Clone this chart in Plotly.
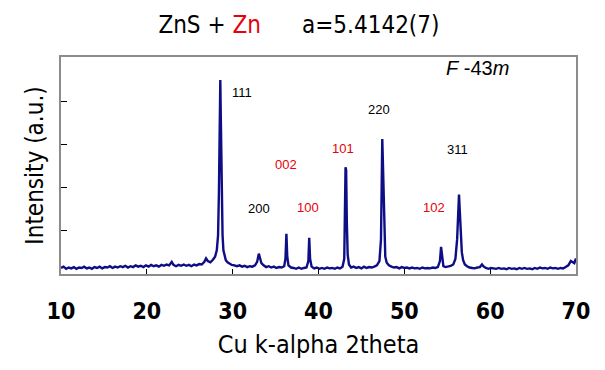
import plotly.graph_objects as go

# Diffraction pattern: (2theta, intensity in a.u.)
two_theta = [
    10.0, 10.3, 10.6, 10.9, 11.2, 11.5, 11.8, 12.1, 12.4, 12.7, 13.0, 13.3, 13.6, 13.9,
    14.2, 14.5, 14.8, 15.1, 15.4, 15.7, 16.0, 16.3, 16.6, 16.9, 17.2, 17.5, 17.8, 18.1,
    18.4, 18.7, 19.0, 19.3, 19.6, 19.9, 20.2, 20.5, 20.8, 21.1, 21.4, 21.7, 22.0, 22.3,
    22.6, 22.9, 23.1, 23.4, 23.7, 24.0, 24.3, 24.6, 24.9, 25.2, 25.5, 25.8, 26.1, 26.4,
    26.7, 26.9, 27.1, 27.4, 27.7, 27.95, 28.15, 28.3, 28.4, 28.48, 28.56, 28.62, 28.68,
    28.75, 28.82, 28.92, 29.05, 29.2, 29.4, 29.6, 29.9, 30.2, 30.5, 30.8, 31.1, 31.4,
    31.7, 32.0, 32.3, 32.6, 32.85, 33.05, 33.2, 33.35, 33.6, 33.9, 34.2, 34.5, 34.8,
    35.1, 35.4, 35.7, 36.0, 36.15, 36.26, 36.36, 36.5, 36.8, 37.1, 37.4, 37.7, 38.0,
    38.3, 38.6, 38.82, 38.92, 39.02, 39.2, 39.5, 39.8, 40.1, 40.4, 40.7, 41.0, 41.3,
    41.6, 41.9, 42.2, 42.5, 42.8, 43.0, 43.08, 43.15, 43.22, 43.3, 43.4, 43.55, 43.8,
    44.1, 44.4, 44.7, 45.0, 45.3, 45.6, 45.9, 46.2, 46.5, 46.8, 47.1, 47.28, 47.36,
    47.43, 47.5, 47.56, 47.65, 47.78, 47.95, 48.2, 48.5, 48.8, 49.1, 49.4, 49.7, 50.0,
    50.3, 50.6, 50.9, 51.2, 51.5, 51.8, 52.1, 52.4, 52.7, 53.0, 53.3, 53.6, 53.9,
    54.15, 54.28, 54.4, 54.55, 54.8, 55.1, 55.4, 55.7, 55.95, 56.15, 56.3, 56.37,
    56.45, 56.55, 56.7, 56.85, 57.05, 57.3, 57.6, 57.9, 58.2, 58.5, 58.8, 59.05,
    59.25, 59.5, 59.8, 60.1, 60.4, 60.7, 61.0, 61.3, 61.6, 61.9, 62.2, 62.5, 62.8,
    63.1, 63.4, 63.7, 64.0, 64.3, 64.6, 64.9, 65.2, 65.5, 65.8, 66.1, 66.4, 66.7,
    67.0, 67.3, 67.6, 67.9, 68.2, 68.5, 68.8, 69.1, 69.4, 69.6, 69.8, 70.0,
]
intensity = [
    0.14, 0.17, 0.12, 0.15, 0.13, 0.16, 0.12, 0.15, 0.14, 0.17, 0.13, 0.15, 0.12, 0.16,
    0.14, 0.17, 0.13, 0.16, 0.15, 0.18, 0.14, 0.17, 0.15, 0.18, 0.16, 0.19, 0.15, 0.18,
    0.16, 0.20, 0.17, 0.19, 0.16, 0.20, 0.17, 0.21, 0.18, 0.20, 0.17, 0.21, 0.19, 0.22,
    0.20, 0.28, 0.21, 0.18, 0.21, 0.19, 0.22, 0.19, 0.21, 0.18, 0.22, 0.20, 0.23, 0.22,
    0.28, 0.36, 0.30, 0.27, 0.33, 0.40, 0.55, 0.90, 1.90, 3.40, 4.49, 3.60, 2.60,
    1.50, 0.90, 0.55, 0.40, 0.32, 0.27, 0.24, 0.21, 0.20, 0.18, 0.20, 0.17, 0.19,
    0.16, 0.18, 0.17, 0.20, 0.28, 0.47, 0.36, 0.25, 0.20, 0.16, 0.18, 0.15, 0.17,
    0.14, 0.16, 0.15, 0.18, 0.35, 0.93, 0.40, 0.20, 0.15, 0.14, 0.12, 0.15, 0.12,
    0.14, 0.15, 0.30, 0.84, 0.35, 0.17, 0.13, 0.15, 0.12, 0.14, 0.12, 0.15, 0.13,
    0.14, 0.12, 0.15, 0.13, 0.17, 0.35, 1.30, 2.47, 2.40, 1.20, 0.45, 0.22, 0.15,
    0.17, 0.14, 0.16, 0.13, 0.17, 0.14, 0.16, 0.15, 0.17, 0.20, 0.30, 0.80, 2.00,
    3.12, 2.60, 2.00, 0.90, 0.40, 0.26, 0.20, 0.17, 0.15, 0.16, 0.13, 0.16, 0.14,
    0.15, 0.13, 0.15, 0.13, 0.14, 0.12, 0.15, 0.13, 0.14, 0.13, 0.15, 0.14, 0.16,
    0.30, 0.63, 0.35, 0.18, 0.16, 0.17, 0.19, 0.22, 0.35, 0.80, 1.60, 1.84,
    1.50, 0.90, 0.50, 0.32, 0.22, 0.18, 0.15, 0.14, 0.13, 0.15, 0.16, 0.22,
    0.17, 0.14, 0.12, 0.14, 0.13, 0.12, 0.14, 0.12, 0.13, 0.11, 0.14, 0.12, 0.13,
    0.11, 0.14, 0.12, 0.14, 0.12, 0.13, 0.11, 0.14, 0.12, 0.15, 0.13, 0.14, 0.12,
    0.15, 0.13, 0.14, 0.12, 0.14, 0.13, 0.16, 0.20, 0.30, 0.27, 0.25, 0.36,
]

# Reflection labels: text, position (2theta, intensity), colour group
label_text = ["111", "200", "002", "100", "101", "220", "311", "102"]
label_x = [31.1, 33.1, 36.26, 38.83, 42.8, 47.0, 56.2, 53.5]
label_y = [4.19, 1.51, 2.53, 1.53, 2.90, 3.81, 2.88, 1.53]
label_phase = ["ZnS", "ZnS", "Zn", "Zn", "Zn", "ZnS", "ZnS", "Zn"]

x_ticks = [10, 20, 30, 40, 50, 60, 70]
y_ticks = [1, 2, 3, 4]

NARROW = "DejaVu Sans Condensed, Liberation Sans Narrow, Roboto, sans-serif"
phase_color = {"ZnS": "#000000", "Zn": "#e8000b"}

fig = go.Figure()
fig.add_trace(go.Scatter(
    x=two_theta, y=intensity, mode="lines",
    line=dict(color="#0d0d85", width=2.4),
    showlegend=False, hoverinfo="skip",
))

for t, x, y, p in zip(label_text, label_x, label_y, label_phase):
    fig.add_annotation(x=x, y=y, xref="x", yref="y", text=t, showarrow=False,
                       font=dict(family="Liberation Sans, Arial, sans-serif",
                                 size=13, color=phase_color[p]))

fig.add_annotation(x=58.56, y=4.77, xref="x", yref="y",
                   text="<i>F</i> -43<i>m</i>", showarrow=False,
                   font=dict(family="Liberation Sans, Arial, sans-serif", size=20, color="black"))

fig.update_layout(
    width=605, height=370,
    margin=dict(l=61, r=29, t=57, b=96, autoexpand=False),
    paper_bgcolor="white", plot_bgcolor="white",
    title=dict(
        text="ZnS + <span style='color:#e8000b'>Zn</span>"
             "&nbsp;&nbsp;&nbsp;&nbsp;&nbsp;&nbsp;a=5.4142(7)",
        x=0.462, xanchor="center", xref="paper",
        y=1 - 25 / 370, yanchor="middle", yref="container",
        font=dict(family=NARROW, size=24, color="black"),
    ),
    xaxis=dict(
        range=[10, 70], tickvals=x_ticks, ticks="inside", ticklen=5,
        tickcolor="black", tickwidth=1, automargin=False,
        showline=True, linecolor="#8c8c8c", linewidth=2, mirror=True,
        showgrid=False, zeroline=False,
        tickfont=dict(family=NARROW, size=23, color="black", weight="bold"),
        ticklabelstandoff=15,
        title=dict(text="Cu k-alpha 2theta", standoff=13,
                   font=dict(family=NARROW, size=25, color="black")),
    ),
    yaxis=dict(
        range=[0, 5.02], tickvals=y_ticks, ticks="inside", ticklen=6,
        tickcolor="black", tickwidth=1, showticklabels=False, automargin=False,
        showline=True, linecolor="#8c8c8c", linewidth=2, mirror=True,
        showgrid=False, zeroline=False,
        title=dict(text="Intensity (a.u.)", standoff=9,
                   font=dict(family=NARROW, size=24, color="black")),
    ),
)

fig.write_html(
    "out.html",
    config={"displayModeBar": False},
    post_script="document.body.style.margin='0px';",
)
